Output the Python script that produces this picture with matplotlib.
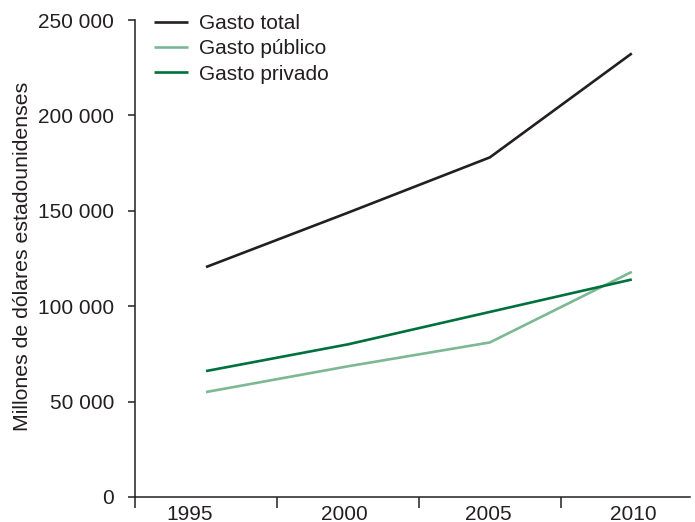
import matplotlib
matplotlib.use("Agg")
import matplotlib.pyplot as plt
from matplotlib.ticker import FuncFormatter, FixedLocator
from matplotlib.transforms import ScaledTranslation

plt.rcParams['font.family'] = ['Liberation Sans', 'DejaVu Sans']

years = ["1995", "2000", "2005", "2010"]
gasto_total = [120500, 149000, 178000, 232500]
gasto_publico = [55000, 68500, 81000, 118000]
gasto_privado = [66000, 80000, 97000, 114000]
series_labels = ["Gasto total", "Gasto público", "Gasto privado"]
colors = ["#231f20", "#7db894", "#00703c"]
y_ticks = [0, 50000, 100000, 150000, 200000, 250000]

fig = plt.figure(figsize=(6.95, 5.22), dpi=100)
ax = fig.add_axes([135/695, 1-497/522, (690-135)/695, (497-20)/522])

x = list(range(len(years)))
for vals, lab, col in zip([gasto_total, gasto_publico, gasto_privado], series_labels, colors):
    ax.plot(x, vals, color=col, lw=1.9, label=lab, solid_capstyle='butt')

axis_col = "#231f20"
ax.set_ylim(0, 250000)
ax.set_xlim(-0.5, 3.41)
ax.set_yticks(y_ticks)
ax.yaxis.set_major_formatter(FuncFormatter(lambda v, p: f"{int(v):,}".replace(",", " ")))
ax.set_xticks([])
ax.xaxis.set_minor_locator(FixedLocator([-0.5, 0.5, 1.5, 2.5]))

# category labels, with small horizontal shifts (pixels) as in the reference
shifts_px = [-16, -4, -2, 2]
for xi, yr, dx in zip(x, years, shifts_px):
    tr = ax.get_xaxis_transform() + ScaledTranslation(dx / 100, -6 / 72, fig.dpi_scale_trans)
    ax.text(xi, 0, yr, transform=tr, ha='center', va='top', fontsize=15, color=axis_col, clip_on=False)

for s in ["top", "right"]:
    ax.spines[s].set_visible(False)
for s in ["left", "bottom"]:
    ax.spines[s].set_color(axis_col)
    ax.spines[s].set_linewidth(1.1)

ax.tick_params(axis='y', direction='out', length=5, width=1.1, color=axis_col, pad=10, labelsize=15, labelcolor=axis_col)
ax.tick_params(axis='x', which='minor', direction='out', length=8, width=1.1, color=axis_col)

ax.set_ylabel("Millones de dólares estadounidenses", fontsize=15.3, color=axis_col)
ax.yaxis.set_label_coords(-0.186, 0.505)

leg = ax.legend(loc='upper left', bbox_to_anchor=(0.02, 1.03), frameon=False, fontsize=15,
                handlelength=1.6, handletextpad=0.55, labelspacing=0.3, borderaxespad=0)
for t in leg.get_texts():
    t.set_color(axis_col)

fig.savefig("out.png", dpi=100)
